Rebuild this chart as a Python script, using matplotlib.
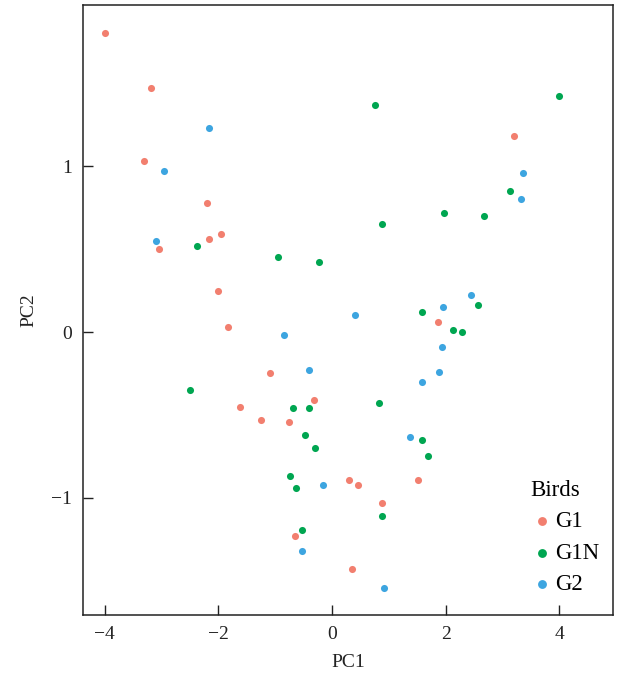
import matplotlib.pyplot as plt

plt.rcParams['font.family'] = ['Liberation Serif', 'DejaVu Serif']

# PCA scores
g1_x = [-3.99, -3.19, -3.30, -3.05, -2.19, -2.17, -1.96, -2.00, -1.82, -1.09, -1.62,
        -1.25, -0.76, -0.32, -0.65, 0.30, 0.45, 0.88, 1.51, 1.86, 0.35, 3.20]
g1_y = [1.80, 1.47, 1.03, 0.50, 0.78, 0.56, 0.59, 0.25, 0.03, -0.25, -0.45,
        -0.53, -0.54, -0.41, -1.23, -0.89, -0.92, -1.03, -0.89, 0.06, -1.43, 1.18]

g1n_x = [-2.38, -0.95, -0.22, 0.76, 4.00, 3.14, 1.97, 2.68, 0.88, 2.56, 1.59, 2.13, 2.29,
         -2.50, -0.69, -0.40, -0.47, -0.29, 0.83, 1.59, 1.69, -0.73, -0.64, -0.52, 0.88]
g1n_y = [0.52, 0.45, 0.42, 1.37, 1.42, 0.85, 0.72, 0.70, 0.65, 0.16, 0.12, 0.01, 0.00,
         -0.35, -0.46, -0.46, -0.62, -0.70, -0.43, -0.65, -0.75, -0.87, -0.94, -1.19, -1.11]

g2_x = [-2.17, -2.96, -3.10, 3.36, 3.32, 2.44, 1.95, 0.40, -0.84, -0.41, 1.94, 1.89,
        1.59, 1.37, -0.15, -0.53, 0.92]
g2_y = [1.23, 0.97, 0.55, 0.96, 0.80, 0.22, 0.15, 0.10, -0.02, -0.23, -0.09, -0.24,
        -0.30, -0.63, -0.92, -1.32, -1.54]

fig = plt.figure(figsize=(6.19, 6.80), dpi=100)
ax = fig.add_axes([0.134, 0.0956, 0.856, 0.897])

ax.scatter(g1_x, g1_y, s=26, c='#F27F6F', label='G1', linewidths=0)
ax.scatter(g1n_x, g1n_y, s=26, c='#00A651', label='G1N', linewidths=0)
ax.scatter(g2_x, g2_y, s=26, c='#3DA5E0', label='G2', linewidths=0)

ax.set_xlim(-4.38, 4.94)
ax.set_ylim(-1.705, 1.97)
ax.set_xticks([-4, -2, 0, 2, 4])
ax.set_yticks([-1, 0, 1])
ax.set_xticklabels(['\u22124', '\u22122', '0', '2', '4'])
ax.set_yticklabels(['\u22121', '0', '1'])
ax.tick_params(direction='in', length=7, width=1, labelsize=14, colors='#222222', pad=8)
for sp in ax.spines.values():
    sp.set_linewidth(1.1)
    sp.set_color('#222222')

ax.set_xlabel('PC1', fontsize=14, color='#222222', labelpad=8)
ax.set_ylabel('PC2', fontsize=14, color='#222222', labelpad=10)

leg = ax.legend(title='Birds', loc='lower right', frameon=False, fontsize=16.5,
                title_fontsize=16.5, handletextpad=0.05, handlelength=1.0,
                labelspacing=0.45, borderaxespad=0.2, alignment='left',
                markerscale=1.25, bbox_to_anchor=(1.0, 0.01))

plt.savefig('out.png', dpi=100)
